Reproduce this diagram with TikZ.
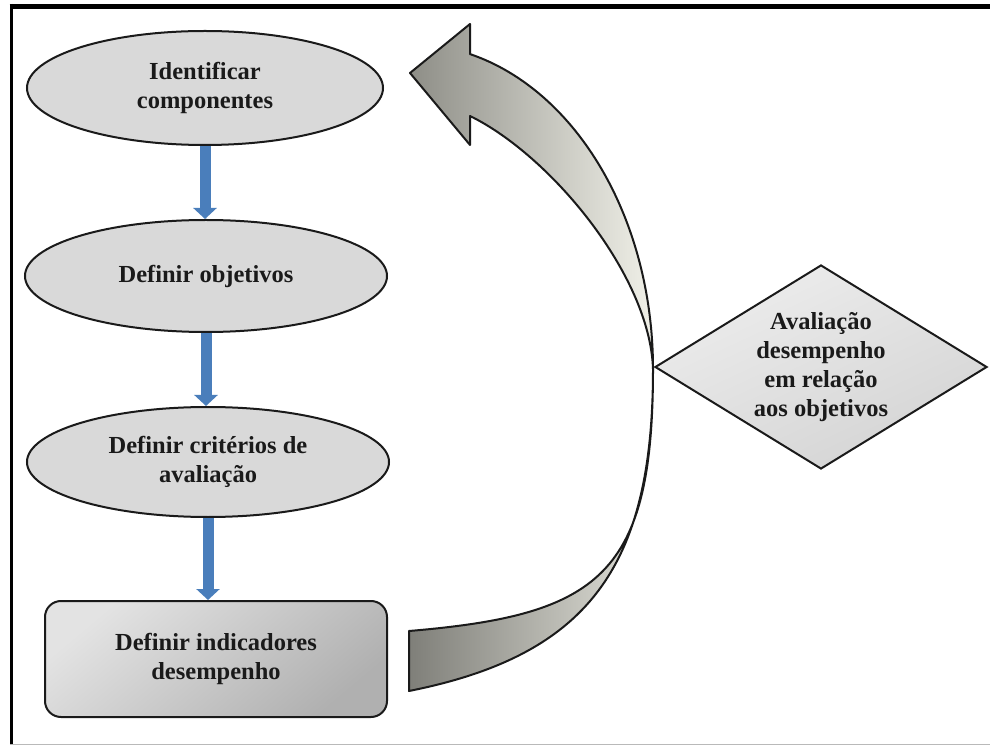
\documentclass[tikz,border=0pt]{standalone}
\usepackage{fontspec}
\setmainfont{Liberation Serif}
\usetikzlibrary{shapes.geometric,arrows.meta}
\definecolor{fillgray}{HTML}{D9D9D9}
\definecolor{flowblue}{HTML}{4A7EBB}
\definecolor{inkline}{HTML}{1A1A1A}
\definecolor{bandhi}{HTML}{F0F0E8}
\definecolor{bandmid}{HTML}{CFCFC7}
\definecolor{banddark}{HTML}{8E8E87}
\definecolor{tailmid}{HTML}{A9A9A2}
\definecolor{taildark}{HTML}{7F7F79}
\definecolor{tailhi}{HTML}{E2E2DA}
\begin{document}
\begin{tikzpicture}[x=1pt,y=1pt,
  lbl/.style={font=\bfseries\fontsize{24.5}{29}\selectfont, align=center, text=inkline},
  oval/.style={ellipse, draw=inkline, line width=2pt, fill=fillgray, inner sep=0pt, lbl},
  flow/.style={draw=flowblue, line width=11pt, -{Triangle[width=23pt,length=11pt]}},
  ribbon/.style={draw=inkline, line width=2pt, line join=round}
]
\useasboundingbox (0,0) rectangle (990,745);

% outer frame: heavy top and left rules, faint bottom rule
\draw[line width=5pt] (9.5,738.5) -- (990,738.5);
\draw[line width=3.5pt] (11.5,741) -- (11.5,0);
\draw[gray!55, line width=1.5pt] (10,0.75) -- (990,0.75);

% process steps
\node[oval, minimum width=356pt, minimum height=114pt] (e1) at (205,657) {Identificar\\componentes};
\node[oval, minimum width=362pt, minimum height=112pt] (e2) at (206,469) {Definir objetivos};
\node[oval, minimum width=362pt, minimum height=110pt] (e3) at (208,283) {Definir critérios de\\avaliação};
\node[draw=inkline, line width=2pt, rounded corners=16pt, minimum width=342pt, minimum height=116pt,
      top color=gray!22, bottom color=gray!62, shading angle=40, lbl] (box) at (216,86)
      {Definir indicadores\\desempenho};

% flow arrows between the steps (straight down)
\draw[flow] (e1.south) -- (e1.south |- e2.north);
\draw[flow] (e2.south) -- (e2.south |- e3.north);
\draw[flow] (e3.south) -- (e3.south |- box.north);

% evaluation decision
\node[diamond, draw=inkline, line width=2pt, minimum width=332pt, minimum height=204pt, inner sep=0pt,
      top color=gray!14, bottom color=gray!34, shading angle=25] (dm) at (821,378) {};
\node[lbl] (dmtext) at (dm.center) {Avaliação\\desempenho\\em relação\\aos objetivos};

% curved feedback arrow: lower band from the tail, upper band with the head
\coordinate (T) at (653,376);
\draw[ribbon, left color=taildark, middle color=tailmid, right color=tailhi]
  (T) .. controls (653,180) and (590,90) .. (409,54) -- (409,114)
      .. controls (600,130) and (653,170) .. (T) -- cycle;
\draw[ribbon, left color=banddark, middle color=bandmid, right color=bandhi]
  (T) arc[start angle=0, end angle=75.7, x radius=243, y radius=325]
      -- (470,721) -- (410,672) -- (470,600) -- (470,629)
      .. controls (550,590) and (650,470) .. (T) -- cycle;
\end{tikzpicture}
\end{document}
